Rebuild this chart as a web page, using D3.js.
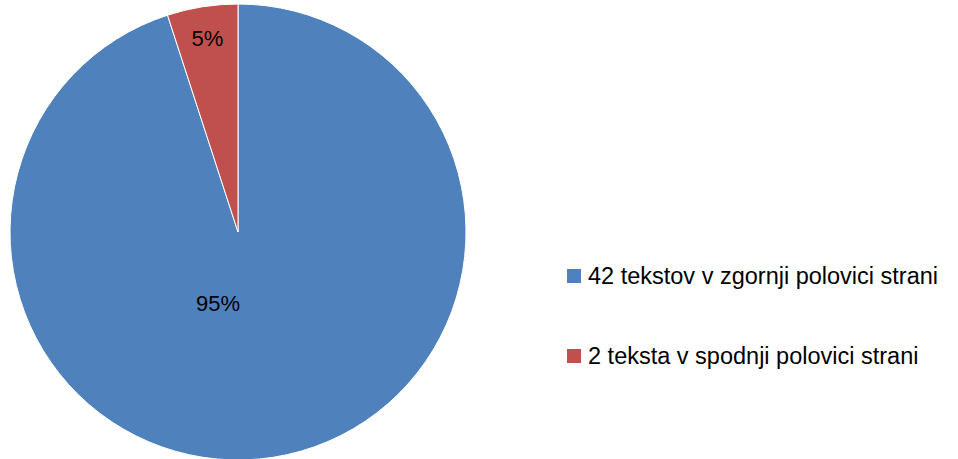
<!DOCTYPE html>
<html>
<head>
<meta charset="utf-8">
<script src="https://cdn.jsdelivr.net/npm/d3@7"></script>
<style>
  body { margin: 0; background: #fff; }
  text { font-family: "Liberation Sans", Arial, sans-serif; fill: #000; }
</style>
</head>
<body>
<script>
// data (slice sizes shown as percentages)
var categories = ["42 tekstov v zgornji polovici strani", "2 teksta v spodnji polovici strani"];
var percents = [95, 5];
var colors = ["#4F81BD", "#C0504D"];

var width = 958, height = 459;
var cx = 238, cy = 232, radius = 228;

var svg = d3.select("body")
    .append("svg")
    .attr("width", width)
    .attr("height", height);

var data = categories.map(function(c, i) { return {name: c, value: percents[i], color: colors[i]}; });
var total = d3.sum(percents);

var pie = d3.pie()
    .sort(null)
    .value(function(d) { return d.value; });

var arc = d3.arc().innerRadius(0).outerRadius(radius);

var g = svg.append("g")
    .attr("transform", "translate(" + cx + "," + cy + ")");

var arcs = pie(data);

g.selectAll("path")
  .data(arcs)
  .enter().append("path")
    .attr("d", arc)
    .attr("fill", function(d) { return d.data.color; })
    .attr("stroke", "#fff")
    .attr("stroke-width", 1);

// Excel-like label spots: big slice nearer the centre, small slice near the rim
var labelRadius = [0.325, 0.86];
var labelAngleShift = [0.0686 * 2 * Math.PI, 0];

g.selectAll(".lbl")
  .data(arcs)
  .enter().append("text")
    .attr("class", "lbl")
    .attr("transform", function(d, i) {
      var a = (d.startAngle + d.endAngle) / 2 + labelAngleShift[i];
      var r = radius * labelRadius[i];
      return "translate(" + (Math.sin(a) * r) + "," + (-Math.cos(a) * r) + ")";
    })
    .attr("text-anchor", "middle")
    .attr("dy", "0.35em")
    .style("font-size", "22px")
    .text(function(d) { return d3.format(".0%")(d.data.value / total); });

// legend
var legend = svg.selectAll(".legend")
  .data(data)
  .enter().append("g")
    .attr("class", "legend")
    .attr("transform", function(d, i) { return "translate(567," + (284 + i * 80) + ")"; });

legend.append("rect")
    .attr("x", 0)
    .attr("y", -15)
    .attr("width", 14)
    .attr("height", 14)
    .attr("fill", function(d) { return d.color; });

legend.append("text")
    .attr("x", 21)
    .attr("y", 0)
    .style("font-size", "23.5px")
    .text(function(d) { return d.name; });
</script>
</body>
</html>
